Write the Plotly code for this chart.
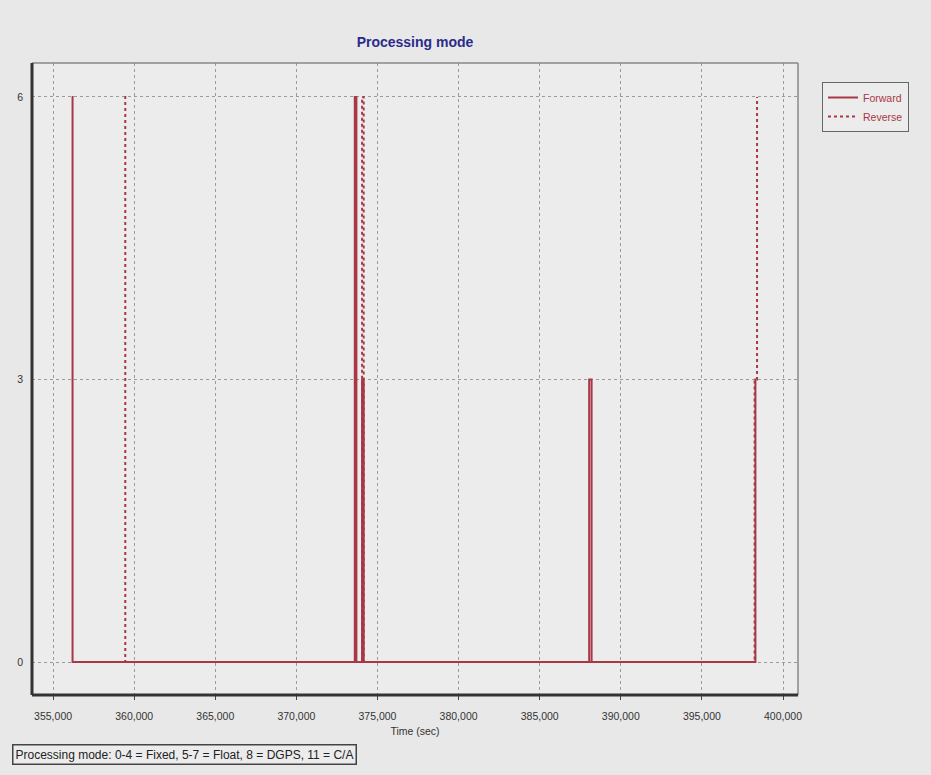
import plotly.graph_objects as go

# Data (time in seconds, processing mode)
fwd_time = [356150, 356200, 373600, 373700, 374050, 374150, 388050, 388200, 398300, 398350]
fwd_mode = [6, 0, 6, 0, 3, 0, 3, 0, 3, 3]
rev_time = [359400, 359450, 374050, 374150, 398250, 398400]
rev_mode = [6, 0, 6, 0, 3, 6]
x_ticks = [355000, 360000, 365000, 370000, 375000, 380000, 385000, 390000, 395000, 400000]
y_ticks = [0, 3, 6]

line_color = "#a83848"
font_family = "Liberation Sans, Arial, sans-serif"

fig = go.Figure()
fig.add_trace(go.Scatter(x=fwd_time, y=fwd_mode, mode="lines", name="Forward",
                         line=dict(color=line_color, width=2, shape="hv")))
fig.add_trace(go.Scatter(x=rev_time, y=rev_mode, mode="lines", name="Reverse",
                         line=dict(color=line_color, width=2, shape="hv", dash="dot")))

fig.update_layout(
    width=931, height=775,
    margin=dict(l=32, r=133, t=63, b=80),
    paper_bgcolor="#e8e8e8",
    plot_bgcolor="#ececec",
    font=dict(family=font_family, size=10.5, color="#333333"),
    title=dict(text="<b>Processing mode</b>", x=(32 + 798) / 2 / 931, xanchor="center",
               y=1 - 42 / 775, yanchor="middle",
               font=dict(family=font_family, size=14, color="#2b2b8c")),
    showlegend=True,
    legend=dict(x=1 + 24 / 766, xanchor="left", y=1 - 19 / 632, yanchor="top",
                bgcolor="#ececec", bordercolor="#666666", borderwidth=1,
                font=dict(color=line_color, size=10.5), tracegroupgap=0,
                itemwidth=30),
    xaxis=dict(range=[353700, 400925], tickvals=x_ticks, tickformat=",d",
               showgrid=True, gridcolor="#9a9a9a", griddash="dot", gridwidth=1,
               zeroline=False, showline=False, ticks="outside", ticklen=4,
               tickcolor="#444444", ticklabelstandoff=7,
               title=dict(text="Time (sec)", standoff=7, font=dict(size=10.5))),
    yaxis=dict(range=[-0.35, 6.36], tickvals=y_ticks,
               showgrid=True, gridcolor="#9a9a9a", griddash="dot", gridwidth=1,
               zeroline=False, showline=False, ticks="", ticklabelstandoff=8),
    shapes=[
        dict(type="line", xref="paper", yref="paper", x0=0, x1=1, y0=1, y1=1,
             line=dict(color="#888888", width=1.5)),
        dict(type="line", xref="paper", yref="paper", x0=1, x1=1, y0=0, y1=1,
             line=dict(color="#888888", width=1.5)),
        dict(type="line", xref="paper", yref="paper", x0=0, x1=0, y0=0, y1=1,
             line=dict(color="#333333", width=3)),
        dict(type="line", xref="paper", yref="paper", x0=0, x1=1, y0=0, y1=0,
             line=dict(color="#333333", width=3)),
    ],
    annotations=[
        dict(text="Processing mode: 0-4 = Fixed, 5-7 = Float, 8 = DGPS, 11 = C/A",
             xref="paper", yref="paper", x=-20 / 766, y=-49 / 632,
             xanchor="left", yanchor="top", showarrow=False,
             font=dict(size=12, color="#222222"),
             bordercolor="#444444", borderwidth=1.5, borderpad=2, bgcolor="#ececec"),
    ],
)

fig.write_html("out.html", config={"displayModeBar": False},
               post_script="document.body.style.margin='0';document.body.style.background='#e8e8e8';")
